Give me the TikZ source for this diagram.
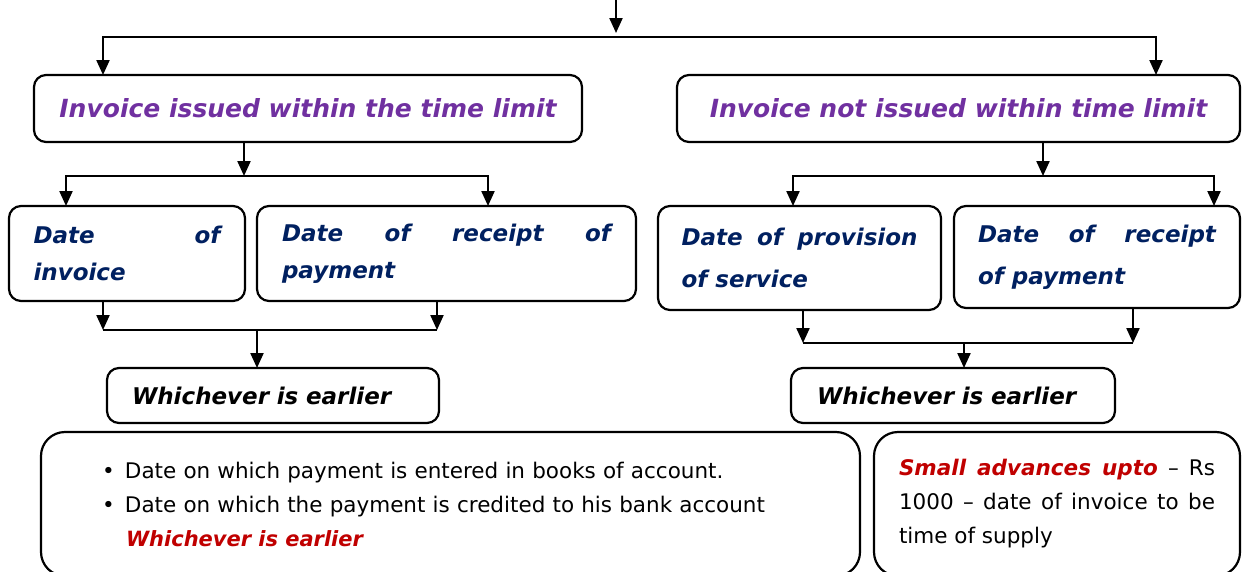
\documentclass[tikz,border=0pt]{standalone}
\usepackage{fontspec}
\setmainfont{DejaVu Sans}
\usetikzlibrary{arrows.meta,calc}
\definecolor{purp}{HTML}{7030A0}
\definecolor{navyc}{HTML}{002060}
\definecolor{dred}{HTML}{C00000}
\begin{document}
\begin{tikzpicture}[x=1pt,y=-1pt,
  box/.style={draw,line width=2.2pt,rounded corners=12pt,inner sep=0pt,outer sep=0pt},
  bigbox/.style={draw,line width=2.2pt,rounded corners=24pt,inner sep=0pt,outer sep=0pt},
  arr/.style={line width=2.2pt,-{Triangle[length=15pt,width=13pt]}},
  ln/.style={line width=2.2pt},
  headtxt/.style={font=\fontsize{25}{30}\selectfont\bfseries\itshape,text=purp},
  datetxt/.style={font=\fontsize{23}{37}\selectfont\bfseries\itshape,text=navyc,align=justify},
  datetxtb/.style={font=\fontsize{23}{42}\selectfont\bfseries\itshape,text=navyc,align=justify},
  whtxt/.style={font=\fontsize{23}{28}\selectfont\bfseries\itshape,text=black,align=left},
  bodytxt/.style={font=\fontsize{21.5}{34}\selectfont,text=black}]
\useasboundingbox (0,0) rectangle (1245,571);

% top level boxes
\node[box,headtxt,minimum width=548pt,minimum height=67pt] (A) at (308,108.5) {Invoice issued within the time limit};
\node[box,headtxt,minimum width=563pt,minimum height=67pt] (B) at (958.5,108.5) {Invoice not issued within time limit};

% date boxes
\node[box,datetxt,minimum width=236pt,minimum height=95pt,text width=187pt] (C1) at (127,253.5) {Date of\linebreak invoice};
\node[box,datetxt,minimum width=379pt,minimum height=95pt,text width=329pt] (C2) at (446.5,253.5) {Date of receipt of\linebreak payment};
\node[box,datetxtb,minimum width=283pt,minimum height=104pt,text width=236pt] (D1) at (799.5,258) {Date of provision\linebreak of service};
\node[box,datetxtb,minimum width=286pt,minimum height=102pt,text width=238pt] (D2) at (1097,257) {Date of receipt\linebreak of payment};

% whichever boxes
\node[box,whtxt,minimum width=332pt,minimum height=55pt,text width=282pt] (W1) at (273,395.5) {Whichever is earlier};
\node[box,whtxt,minimum width=324pt,minimum height=55pt,text width=272pt] (W2) at (953,395.5) {Whichever is earlier};

% bottom boxes
\node[bigbox,bodytxt,minimum width=819pt,minimum height=144pt,text width=697pt,align=left] (E) at (450.5,504)
 {\makebox[23pt][l]{\textbullet}Date on which payment is entered in books of account.\\
  \makebox[23pt][l]{\textbullet}Date on which the payment is credited to his bank account\\
  \hspace*{24pt}{\fontsize{21}{34}\selectfont\bfseries\itshape\color{dred}Whichever is earlier}};
\node[bigbox,bodytxt,minimum width=366pt,minimum height=144pt,text width=316pt,align=justify] (F) at (1057,504)
 {{\bfseries\itshape\color{dred}Small advances upto} -- Rs\linebreak 1000 -- date of invoice to be\linebreak time of supply};

% connectors: top
\coordinate (top) at (616,0);
\coordinate (j0) at (616,37);
\draw[arr,shorten >=4pt] (top) -- (j0);
\draw[arr] (j0) -| ([xshift=69pt]A.north west);
\draw[arr] (j0) -| ([xshift=-84pt]B.north east);

% left branch
\coordinate (jA) at (244,176);
\draw[arr] ([xshift=210pt]A.south west) -- (jA);
\draw[arr] (jA) -| ([xshift=57pt]C1.north west);
\draw[arr] (jA) -| ([xshift=231pt]C2.north west);
\coordinate (mL1) at (103,330);
\coordinate (mL2) at (437,330);
\coordinate (mL) at (257,330);
\draw[arr] ([xshift=94pt]C1.south west) -- (mL1);
\draw[arr] ([xshift=180pt]C2.south west) -- (mL2);
\draw[ln] (mL1) -- (mL2);
\draw[arr] (mL) -- (W1.north -| mL);

% right branch
\coordinate (jB) at (1043,176);
\draw[arr] ([xshift=366pt]B.south west) -- (jB);
\draw[arr] (jB) -| ([xshift=135pt]D1.north west);
\draw[arr] (jB) -| ([xshift=260pt]D2.north west);
\coordinate (mR1) at (803,343);
\coordinate (mR2) at (1133,343);
\coordinate (mR) at (964,343);
\draw[arr] ([xshift=145pt]D1.south west) -- (mR1);
\draw[arr] ([xshift=179pt]D2.south west) -- (mR2);
\draw[ln] (mR1) -- (mR2);
\draw[arr] (mR) -- (W2.north -| mR);
\end{tikzpicture}
\end{document}
